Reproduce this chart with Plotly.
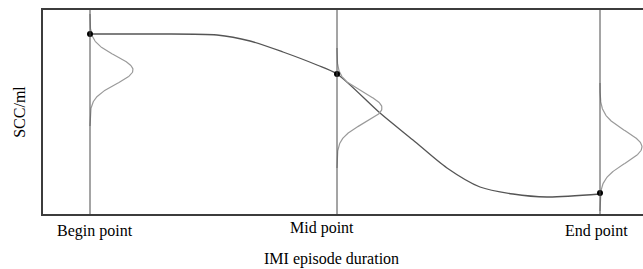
import numpy as np
import plotly.graph_objects as go

# ---- data (schematic units) ----
stages = ["Begin point", "Mid point", "End point"]
stage_x = [47, 294, 557]            # position of each stage on the duration axis
stage_scc = [180, 140, 21]          # SCC/ml level at each stage (dots)

curve_x = [47, 107, 174, 207, 240, 274, 294, 337, 370, 404, 437, 470, 504, 557]
curve_y = [180, 180, 179, 173, 162, 149, 140, 101, 74, 46, 27, 20, 17, 20]

dist_mean = [144, 106, 67]          # centre of each SCC distribution
dist_sd = [14, 15, 16]              # spread of each distribution
dist_height = [43, 45, 42]          # drawn width of each distribution

label_shift = [5, -15, -4]          # pixel offset of stage labels

fig = go.Figure()

# SCC trajectory
fig.add_trace(go.Scatter(x=curve_x, y=curve_y, mode="lines",
                         line=dict(color="#555555", width=1.3, shape="spline", smoothing=0.8),
                         hoverinfo="skip", showlegend=False))

# Distributions (sideways normal densities)
for xm, mu, sd, h in zip(stage_x, dist_mean, dist_sd, dist_height):
    yy = np.linspace(mu - 4 * sd, mu + 4 * sd, 200)
    xx = xm + h * np.exp(-0.5 * ((yy - mu) / sd) ** 2)
    fig.add_trace(go.Scatter(x=xx, y=yy, mode="lines",
                             line=dict(color="#9a9a9a", width=1.2),
                             hoverinfo="skip", showlegend=False))

# Stage markers
fig.add_trace(go.Scatter(x=stage_x, y=stage_scc, mode="markers",
                         marker=dict(color="black", size=6),
                         hoverinfo="skip", showlegend=False))

# Vertical stage lines
for xm in stage_x:
    fig.add_shape(type="line", x0=xm, x1=xm, y0=0, y1=1, xref="x", yref="paper",
                  line=dict(color="#4a4a4a", width=1))

# Stage labels
for name, xm, sh in zip(stages, stage_x, label_shift):
    fig.add_annotation(x=xm, y=-0.085 if name != "Mid point" else -0.07,
                       xref="x", yref="paper", text=name, showarrow=False,
                       xshift=sh, yanchor="middle",
                       font=dict(family="Liberation Serif", size=16, color="#000000"))

fig.add_annotation(x=0.48, y=-0.22, xref="paper", yref="paper",
                   text="IMI episode duration", showarrow=False, yanchor="middle",
                   font=dict(family="Liberation Serif", size=16, color="#000000"))

fig.update_layout(
    width=643, height=269,
    margin=dict(l=43, r=0, t=10, b=55),
    paper_bgcolor="white", plot_bgcolor="white",
    font=dict(family="Liberation Serif", size=16, color="#000000"),
    xaxis=dict(range=[0, 600], showgrid=False, zeroline=False, showticklabels=False,
               ticks="", showline=True, mirror=True, linecolor="#3c3c3c", linewidth=1.5,
               fixedrange=True),
    yaxis=dict(range=[0, 204], showgrid=False, zeroline=False, showticklabels=False,
               ticks="", showline=True, mirror=False, linecolor="#3c3c3c", linewidth=1.5,
               title=dict(text="SCC/ml", standoff=12,
                          font=dict(family="Liberation Serif", size=16)),
               fixedrange=True),
)

fig.write_html("out.html", config={"displayModeBar": False},
               post_script="document.body.style.margin='0';document.body.style.overflow='hidden';")
